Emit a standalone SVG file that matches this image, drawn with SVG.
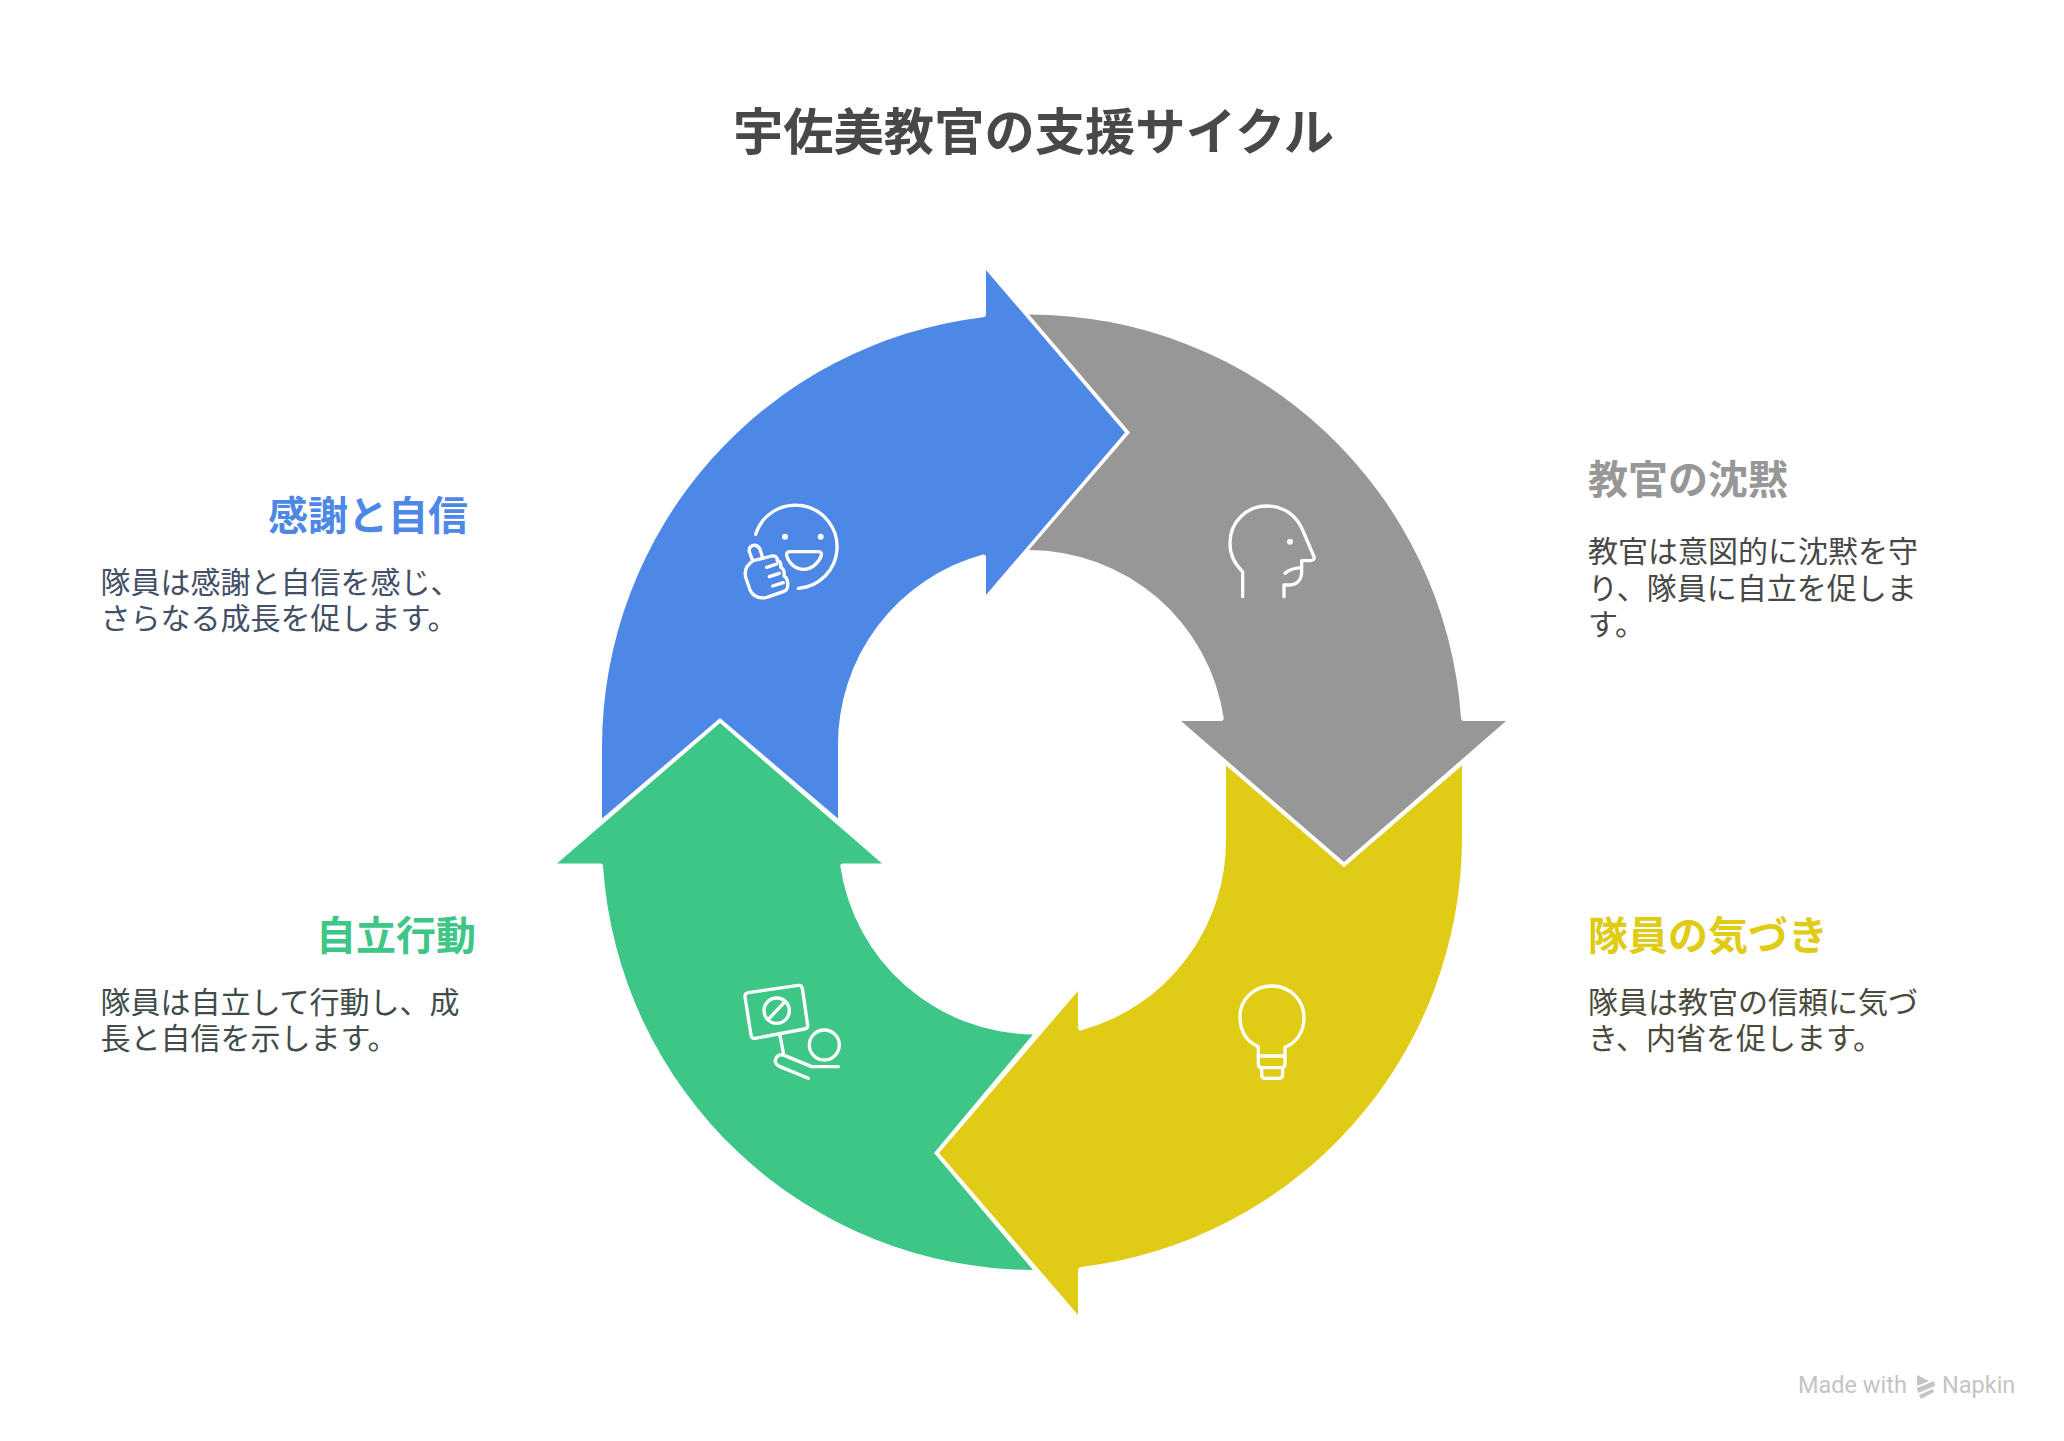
<svg xmlns="http://www.w3.org/2000/svg" width="2064" height="1441" viewBox="0 0 2064 1441">
<style>
text{font-family:"Noto Sans CJK JP","Noto Sans",sans-serif}
.t{font-size:50.3px;font-weight:700;fill:#484848;text-anchor:middle}
.h{font-size:40px;font-weight:700}
.b{font-size:30px}
.e{text-anchor:end}
.i{fill:none;stroke:#fff;stroke-width:10;stroke-linecap:round;stroke-linejoin:round}
.d{fill:#fff}
.w{font-family:Roboto,"Liberation Sans",sans-serif;font-size:23.5px;fill:#c4c4c4}
</style>
<rect width="2064" height="1441" fill="#fff"/>
<text id="title" class="t" x="1033.5" y="150">宇佐美教官の支援サイクル</text>
<g id="connectors"></g>
<g id="node-gratitude">
<path fill="#4e88e7" d="M602,818.6 V747 A433,433 0 0 1 983,317.2 Q986,317 986,314 V270 L1125,432.5 L986,595 V557 Q986,554 983,554.5 A197,197 0 0 0 838,747 V818.6 L720,718 Z"/>
<g class="i" transform="translate(720 490) scale(.3333)">
<path d="M107,133 A125,125 0 1 1 235,295"/>
<path d="M210,185 H295 Q307,185 304,197 C295,222 272,238 252,238 C228,238 207,222 200,197 Q198,185 210,185Z"/>
<path d="M98,212 L88,185 Q85,170 100,166 Q113,164 120,178 L128,203"/>
<path d="M100,212 L155,198 Q172,196 172,212 Q185,215 182,232 Q195,238 192,258 Q205,265 203,288 Q203,300 190,305 L140,322 Q105,330 90,300 L78,265 Q68,232 100,212Z"/>
<path d="M140,232 L170,222 M148,260 L178,250 M158,288 L190,278"/>
</g>
<circle class="d" cx="785" cy="536.7" r="3"/><circle class="d" cx="820.7" cy="536.7" r="3"/>
<text class="h e" x="468" y="530" fill="#4e88e7">感謝と自信</text>
<text class="b" fill="#424f66"><tspan x="100.5" y="592.5">隊員は感謝と自信を感じ、</tspan><tspan x="100.5" y="628.5">さらなる成長を促します。</tspan></text>
</g>
<g id="node-silence">
<path fill="#979797" d="M1029,314.5 A433,433 0 0 1 1461,718 Q1461.3,721 1464,721 H1506 L1344,862 L1181,721 H1221 Q1224,721 1223.7,718 A197,197 0 0 0 1029,550 L1130,432.5 Z"/>
<g class="i" transform="translate(1210 490) scale(.3333)">
<path d="M98,320 V245 Q60,210 60,160 C60,90 115,48 170,48 C225,48 262,80 280,125 L312,200 Q315,212 300,212 L275,212 V245 C275,270 260,285 240,285 L222,285 V320"/>
<path d="M225,250 Q240,235 275,233"/>
</g>
<circle class="d" cx="1290" cy="541.7" r="3"/>
<text class="h" x="1588" y="494" fill="#979797">教官の沈黙</text>
<text class="b" fill="#484848"><tspan x="1588" y="562">教官は意図的に沈黙を守</tspan><tspan x="1588" y="598.5">り、隊員に自立を促しま</tspan><tspan x="1588" y="635">す。</tspan></text>
</g>
<g id="node-awareness">
<path fill="#e0cb15" d="M1462,765.4 V837 A433,433 0 0 1 1081,1267 Q1078,1267.5 1078,1270 V1315 L939,1153 L1078,991 V1028 Q1078,1031 1081,1030.5 A197,197 0 0 0 1226,837 V765.4 L1344,867.3 Z"/>
<g class="i" transform="translate(1220 970) scale(.3333)">
<path d="M115,230 Q60,205 60,140 C60,85 105,48 155,48 C210,48 252,90 252,143 C252,190 225,220 195,232 V283 Q195,293 185,293 L125,293 Q115,293 115,283 Z"/>
<path d="M115,258 H195"/>
<path d="M125,293 V315 Q125,325 138,325 H175 Q188,325 188,315 V293"/>
</g>
<text class="h" x="1588" y="950" fill="#e0cb15">隊員の気づき</text>
<text class="b" fill="#4a4a3c"><tspan x="1588" y="1013">隊員は教官の信頼に気づ</tspan><tspan x="1588" y="1049">き、内省を促します。</tspan></text>
</g>
<g id="node-autonomy">
<path fill="#3ec687" d="M1033,1270 A433,433 0 0 1 603,866 Q603,863.5 600,863.5 H557 L720,723 L882,863.5 H843 Q840,863.5 840.3,866 A197,197 0 0 0 1033,1034.5 L934,1153 Z"/>
<g class="i" transform="translate(730 970) scale(.3333)">
<path d="M55,68 L205,46 Q215,45 217,55 L233,165 Q234,175 224,177 L75,205 Q65,207 63,195 L45,80 Q44,70 55,68Z"/>
<circle cx="140" cy="122" r="38"/>
<path d="M115,148 L165,95"/>
<path d="M150,197 L160,248"/>
<path d="M235,325 L150,290 Q130,280 138,265 Q145,250 165,257 L245,290 H325"/>
<circle cx="283" cy="225" r="45"/>
</g>
<text class="h e" x="476" y="950" fill="#3ec687">自立行動</text>
<text class="b" fill="#3f4c4a"><tspan x="100.5" y="1013">隊員は自立して行動し、成</tspan><tspan x="100.5" y="1049">長と自信を示します。</tspan></text>
</g>
<g id="watermark">
<text class="w" x="1798" y="1393">Made with</text>
<text class="w" x="1942" y="1393">Napkin</text>
<g fill="#c4c4c4">
<polygon points="1917,1375 1929,1381 1917,1386"/>
<polygon points="1917,1388 1934,1381 1935,1386 1918,1393"/>
<polygon points="1919,1395 1933,1389 1934,1392 1921,1399"/>
</g>
</g>
</svg>
